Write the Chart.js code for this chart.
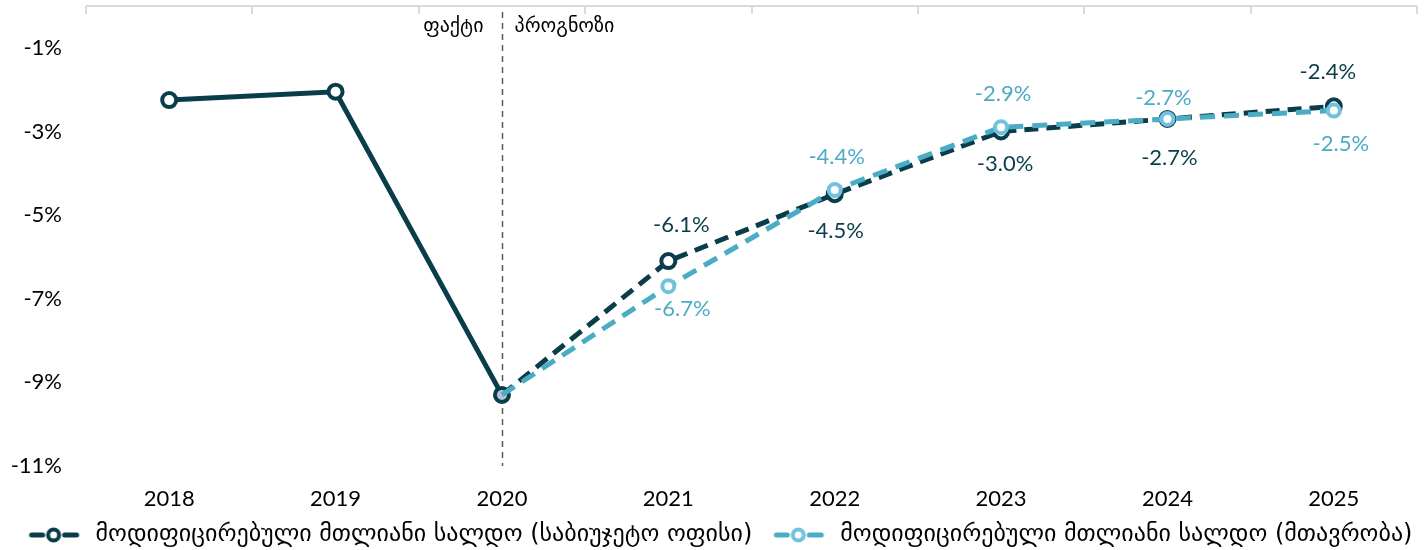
<!DOCTYPE html>
<html>
<head>
<meta charset="utf-8">
<script src="https://cdn.jsdelivr.net/npm/chart.js@4.4.1/dist/chart.umd.min.js"></script>
<style>
  html, body { margin: 0; padding: 0; background: #fff; }
  #wrap { width: 1426px; height: 550px; }
</style>
</head>
<body>
<div id="wrap"><canvas id="balanceChart" width="1426" height="550"></canvas></div>
<script>
// data
const years = ['2018', '2019', '2020', '2021', '2022', '2023', '2024', '2025'];
const budgetOffice = [-2.25, -2.05, -9.3, -6.1, -4.5, -3.0, -2.7, -2.4];
const government = [null, null, -9.3, -6.7, -4.4, -2.9, -2.7, -2.5];
const budgetOfficeLabels = [null, null, null, '-6.1%', '-4.5%', '-3.0%', '-2.7%', '-2.4%'];
const governmentLabels = [null, null, null, '-6.7%', '-4.4%', '-2.9%', '-2.7%', '-2.5%'];
const yTicks = [-1, -3, -5, -7, -9, -11];
const seriesNames = [
    'მოდიფიცირებული მთლიანი სალდო (საბიუჯეტო ოფისი)',
    'მოდიფიცირებული მთლიანი სალდო (მთავრობა)'
];

const DARK = '#0a3d4a';
const LIGHT = '#4bacc6';
const LIGHT_MARK = '#72c2de';
const NUM_FONT = 'Lato, "DejaVu Sans", sans-serif';

// label offsets [dx, dy] from the point
const darkOffsets = [null, null, null, [13, -36], [1, 37], [4, 32], [2, 39], [-6, -34]];
const lightOffsets = [null, null, null, [14, 23], [2, -33], [2, -33], [-4, -21], [7, 33]];

const ICON_W = 70;
function legendIcon(color, markColor) {
    const c = document.createElement('canvas');
    c.width = ICON_W; c.height = 20;
    const g = c.getContext('2d');
    const o = ICON_W - 56;   // blank space on the left = gap between items
    g.strokeStyle = color;
    g.lineWidth = 5;
    g.lineCap = 'round';
    g.beginPath(); g.moveTo(o + 4, 10); g.lineTo(o + 15, 10); g.stroke();
    g.beginPath(); g.moveTo(o + 37, 10); g.lineTo(o + 49, 10); g.stroke();
    g.beginPath(); g.arc(o + 26, 10, 5.5, 0, Math.PI * 2);
    g.fillStyle = '#fff'; g.fill();
    g.lineWidth = 4; g.strokeStyle = markColor; g.stroke();
    return c;
}

// top axis line at 0%, tick marks, fact/forecast divider, value labels
const decorations = {
    id: 'decorations',
    beforeDatasetsDraw(chart) {
        const { ctx, chartArea, scales: { x, y } } = chart;
        const y0 = Math.round(y.getPixelForValue(0));
        const half = (x.getPixelForValue(1) - x.getPixelForValue(0)) / 2;
        ctx.save();
        ctx.strokeStyle = '#d9d9d9';
        ctx.lineWidth = 2;
        ctx.beginPath();
        ctx.moveTo(chartArea.left, y0);
        ctx.lineTo(chartArea.right, y0);
        for (let i = 0; i <= years.length; i++) {
            const px = Math.round(x.getPixelForValue(0) - half + i * half * 2);
            ctx.moveTo(px, y0);
            ctx.lineTo(px, y0 + 8);
        }
        ctx.stroke();

        const xd = Math.round(x.getPixelForValue(2)) + 0.5;
        ctx.strokeStyle = '#595959';
        ctx.lineWidth = 1.5;
        ctx.setLineDash([6, 5]);
        ctx.beginPath();
        ctx.moveTo(xd, 12);
        ctx.lineTo(xd, chartArea.bottom);
        ctx.stroke();
        ctx.setLineDash([]);

        ctx.fillStyle = '#000';
        ctx.font = '20px "DejaVu Sans", sans-serif';
        ctx.textBaseline = 'middle';
        ctx.textAlign = 'right';
        ctx.fillText('ფაქტი', xd - 19, 27);
        ctx.textAlign = 'left';
        ctx.fillText('პროგნოზი', xd + 12, 27);
        ctx.restore();
    },
    afterDatasetsDraw(chart) {
        const { ctx } = chart;
        ctx.save();
        ctx.font = '22px ' + NUM_FONT;
        ctx.textAlign = 'center';
        ctx.textBaseline = 'middle';
        const sets = [[0, budgetOfficeLabels, darkOffsets, DARK], [1, governmentLabels, lightOffsets, LIGHT]];
        sets.forEach(([di, labels, offs, color]) => {
            const meta = chart.getDatasetMeta(di);
            meta.data.forEach((pt, i) => {
                if (!labels[i]) return;
                ctx.fillStyle = color;
                ctx.fillText(labels[i], pt.x + offs[i][0], pt.y + offs[i][1]);
            });
        });
        ctx.restore();
    }
};

const ctx = document.getElementById('balanceChart').getContext('2d');
new Chart(ctx, {
    type: 'line',
    data: {
        labels: years,
        datasets: [{
            label: seriesNames[0],
            data: budgetOffice,
            borderColor: DARK,
            borderWidth: 5,
            pointRadius: 7,
            pointBorderWidth: 4,
            pointBorderColor: DARK,
            pointBackgroundColor: budgetOffice.map((v, i) => i === 2 ? '#b8c2db' : '#fff'),
            segment: {
                borderDash: c => c.p0DataIndex >= 2 ? [14, 8] : undefined
            },
            order: 2
        }, {
            label: seriesNames[1],
            data: government,
            borderColor: LIGHT,
            borderWidth: 5,
            borderDash: [15, 9],
            pointRadius: government.map((v, i) => i <= 2 ? 0 : 6),
            pointBorderWidth: 4,
            pointBorderColor: LIGHT_MARK,
            pointBackgroundColor: '#fff',
            order: 1
        }]
    },
    options: {
        responsive: false,
        animation: false,
        layout: { autoPadding: false, padding: { top: 6, right: 0, left: 0, bottom: -7 } },
        scales: {
            x: {
                offset: true,
                afterFit: scale => { scale.paddingLeft = 0; scale.paddingRight = 9; scale.height = 51; },
                grid: { display: false, drawTicks: false },
                border: { display: false },
                ticks: { color: '#000', font: { size: 22, family: NUM_FONT }, padding: 20 }
            },
            y: {
                min: -11,
                max: 0,
                afterBuildTicks: scale => { scale.ticks = yTicks.map(v => ({ value: v })); },
                afterFit: scale => { scale.width = 86; scale.paddingTop = 0; scale.paddingBottom = 0; },
                grid: { display: false, drawTicks: false },
                border: { display: false },
                ticks: {
                    color: '#000',
                    padding: 24,
                    font: { size: 22, family: NUM_FONT },
                    callback: v => v + '%'
                }
            }
        },
        plugins: {
            legend: {
                position: 'bottom',
                labels: {
                    usePointStyle: true,
                    pointStyleWidth: ICON_W,
                    color: '#000',
                    padding: 6,
                    font: { size: 24, family: '"DejaVu Sans", sans-serif' },
                    generateLabels: chart => chart.data.datasets.map((ds, i) => ({
                        text: ds.label,
                        pointStyle: legendIcon(i === 0 ? DARK : LIGHT, i === 0 ? DARK : LIGHT_MARK),
                        fillStyle: '#fff',
                        strokeStyle: '#fff',
                        lineWidth: 0,
                        fontColor: '#000',
                        datasetIndex: i
                    }))
                }
            },
            tooltip: { enabled: false }
        }
    },
    plugins: [decorations]
});
</script>
</body>
</html>
